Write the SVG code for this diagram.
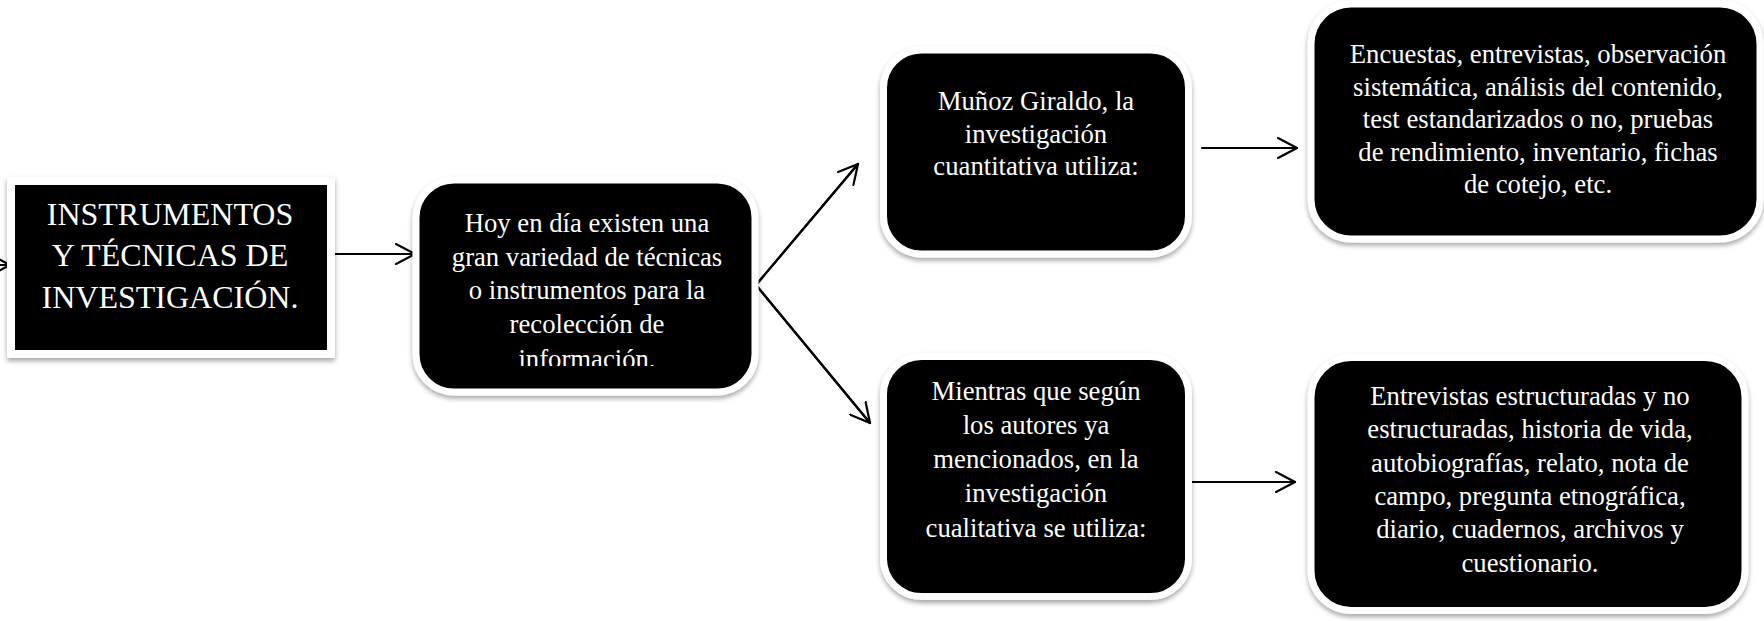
<svg xmlns="http://www.w3.org/2000/svg" width="1764" height="621" viewBox="0 0 1764 621">
<style>
.box{fill:#000;stroke:#fff;stroke-width:7;filter:url(#sh)}
.t{font-family:"Liberation Serif","Times New Roman",serif;fill:#fff;text-anchor:middle;font-size:26.7px}
.big{font-size:32px}
.c{fill:none;stroke:#000;stroke-width:2.2;stroke-linecap:round;stroke-linejoin:round}
</style>
<defs>
<filter id="sh" x="-10%" y="-10%" width="120%" height="125%">
<feDropShadow dx="0" dy="3" stdDeviation="2.5" flood-color="#000" flood-opacity="0.35"/>
</filter>
<marker id="ah" viewBox="0 0 22 22" refX="20" refY="11" markerWidth="22" markerHeight="22" markerUnits="userSpaceOnUse" orient="auto">
<path d="M1,1 L20,11 L1,21" fill="none" stroke="#000" stroke-width="2.2" stroke-linecap="round" stroke-linejoin="round"/>
</marker>
<clipPath id="clip2"><rect x="416" y="180" width="339" height="186"/></clipPath>
</defs>
<rect width="1764" height="621" fill="#fff"/>
<g id="connectors">
<line class="c" x1="-5" y1="265" x2="10" y2="265" marker-end="url(#ah)"/>
<line class="c" x1="332" y1="254" x2="415" y2="254" marker-end="url(#ah)"/>
<polyline class="c" points="858,164 756,285 870,423"/>
<line class="c" x1="756" y1="285" x2="858" y2="164" marker-end="url(#ah)"/>
<line class="c" x1="756" y1="285" x2="870" y2="423" marker-end="url(#ah)"/>
<line class="c" x1="1202" y1="148" x2="1297" y2="148" marker-end="url(#ah)"/>
<line class="c" x1="1190" y1="482" x2="1295" y2="482" marker-end="url(#ah)"/>
</g>
<g id="n1">
<rect class="box" x="11" y="181" width="320" height="173" style="stroke-width:8"/>
<text class="t big" x="170"><tspan x="170" y="225">INSTRUMENTOS</tspan><tspan x="170" y="266">Y TÉCNICAS DE</tspan><tspan x="170" y="308">INVESTIGACIÓN.</tspan></text>
</g>
<g id="n2">
<rect class="box" x="416" y="180" width="339" height="212" rx="38"/>
<text class="t" clip-path="url(#clip2)"><tspan x="587" y="232">Hoy en día existen una</tspan><tspan x="587" y="266">gran variedad de técnicas</tspan><tspan x="587" y="299">o instrumentos para la</tspan><tspan x="587" y="333">recolección de</tspan><tspan x="587" y="368">información.</tspan></text>
</g>
<g id="n3">
<rect class="box" x="883.5" y="50" width="305" height="204" rx="38"/>
<text class="t"><tspan x="1036" y="110">Muñoz Giraldo, la</tspan><tspan x="1036" y="143">investigación</tspan><tspan x="1036" y="175">cuantitativa utiliza:</tspan></text>
</g>
<g id="n4">
<rect class="box" x="1311" y="4" width="449" height="235" rx="40"/>
<text class="t"><tspan x="1538" y="63">Encuestas, entrevistas, observación</tspan><tspan x="1538" y="96">sistemática, análisis del contenido,</tspan><tspan x="1538" y="128">test estandarizados o no, pruebas</tspan><tspan x="1538" y="161">de rendimiento, inventario, fichas</tspan><tspan x="1538" y="193">de cotejo, etc.</tspan></text>
</g>
<g id="n5">
<rect class="box" x="883.5" y="356.5" width="305" height="240" rx="38"/>
<text class="t"><tspan x="1036" y="400">Mientras que según</tspan><tspan x="1036" y="434">los autores ya</tspan><tspan x="1036" y="468">mencionados, en la</tspan><tspan x="1036" y="502">investigación</tspan><tspan x="1036" y="537">cualitativa se utiliza:</tspan></text>
</g>
<g id="n6">
<rect class="box" x="1311" y="357.5" width="434" height="253" rx="40"/>
<text class="t"><tspan x="1530" y="405">Entrevistas estructuradas y no</tspan><tspan x="1530" y="438">estructuradas, historia de vida,</tspan><tspan x="1530" y="472">autobiografías, relato, nota de</tspan><tspan x="1530" y="505">campo, pregunta etnográfica,</tspan><tspan x="1530" y="538">diario, cuadernos, archivos y</tspan><tspan x="1530" y="572">cuestionario.</tspan></text>
</g>
</svg>
